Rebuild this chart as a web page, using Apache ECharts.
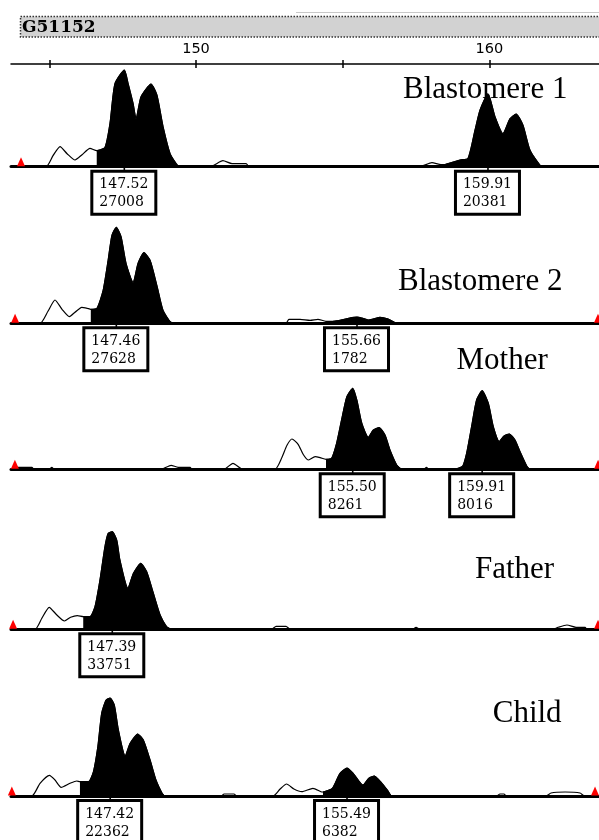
<!DOCTYPE html>
<html><head><meta charset="utf-8">
<script src="https://cdn.jsdelivr.net/npm/echarts@6/dist/echarts.min.js"></script>
<style>html,body{margin:0;padding:0;background:#fff}#c{width:599px;height:840px}</style>
</head><body><div id="c"></div>
<script>
// ---------- data ----------
const markerName = 'G51152';
const topTicks = [145, 150, 155, 160];
const topLabels = [150, 160];
const sampleNames = ['Blastomere 1', 'Blastomere 2', 'Mother', 'Father', 'Child'];

// traces: [size (bp), height (RFU)]
const b1Trace = [[143.66,0],[144.85,0],[145.09,3072],[145.33,5586],[145.57,3631],[145.84,1871],[146.08,3352],[146.35,5111],[146.58,4469],[146.86,5390],[147.03,12010],[147.20,23182],[147.52,27008],[147.65,23182],[147.82,17596],[147.92,13406],[148.09,19551],[148.43,23098],[148.63,20026],[148.84,11172],[149.08,3631],[149.35,200],[149.49,0],[150.44,0],[150.88,1676],[151.19,838],[151.67,838],[151.77,0],[157.59,0],[158.00,1117],[158.31,559],[158.41,559],[158.96,1871],[159.23,2318],[159.47,10250],[159.64,15836],[159.91,20381],[160.15,13965],[160.42,9217],[160.66,13406],[160.87,14719],[161.10,11647],[161.34,4664],[161.68,475],[161.79,0],[163.69,0]];
const b2Trace = [[143.87,0],[144.86,0],[145.13,3454],[145.37,6706],[145.61,4029],[145.86,1928],[146.05,3166],[146.28,4605],[146.47,4317],[146.59,4029],[146.80,4317],[147.01,9497],[147.18,18131],[147.31,25326],[147.46,27628],[147.62,24952],[147.79,17268],[148.03,11713],[148.20,17268],[148.40,20347],[148.61,18131],[148.85,10562],[149.05,3741],[149.29,489],[149.43,0],[153.24,0],[153.34,1151],[153.72,1151],[154.06,863],[154.33,1151],[154.60,576],[154.84,576],[155.08,863],[155.49,1670],[155.66,1782],[155.86,1439],[156.04,950],[156.24,1295],[156.44,1727],[156.72,1238],[156.95,200],[157.02,0],[163.90,0]];
const motherTrace = [[143.86,0],[143.96,204],[144.57,204],[144.64,0],[145.15,0],[145.25,204],[145.32,0],[148.97,0],[149.31,408],[149.55,204],[149.96,204],[150.02,0],[151.11,0],[151.42,612],[151.76,0],[152.85,0],[153.09,1224],[153.26,2448],[153.43,3091],[153.64,2550],[153.81,1530],[153.98,949],[154.22,1295],[154.39,1193],[154.59,1020],[154.78,1122],[154.95,2652],[155.12,5029],[155.30,7415],[155.50,8261],[155.64,7069],[155.81,4692],[156.03,3264],[156.20,4009],[156.40,4253],[156.60,3499],[156.77,1969],[157.00,439],[157.17,0],[157.93,0],[158.01,204],[158.10,0],[158.93,0],[159.09,102],[159.25,337],[159.38,1632],[159.55,4355],[159.72,7069],[159.91,8016],[160.12,6732],[160.29,4355],[160.49,2825],[160.65,3397],[160.84,3601],[161.03,2989],[161.20,1805],[161.43,337],[161.54,0],[163.89,0]];
const fatherTrace = [[143.94,0],[144.76,0],[144.99,3804],[145.24,7608],[145.50,4945],[145.76,2870],[145.97,4150],[146.20,4737],[146.40,4392],[146.63,4392],[146.80,7850],[146.97,17048],[147.14,28598],[147.25,33197],[147.39,33751],[147.54,30880],[147.65,23964],[147.92,14178],[148.11,19365],[148.36,22823],[148.56,19953],[148.79,12449],[149.02,4945],[149.24,934],[149.41,0],[152.82,0],[152.97,1037],[153.31,1037],[153.45,0],[157.62,0],[157.74,692],[157.87,0],[162.41,0],[162.58,692],[162.88,1487],[163.19,692],[163.50,692],[163.56,0],[163.97,0]];
const childTrace = [[144.04,0],[144.75,0],[145.03,2898],[145.35,4724],[145.54,3651],[145.75,1985],[146.05,2898],[146.28,3423],[146.39,3263],[146.68,3263],[146.85,5545],[147.00,11250],[147.13,18872],[147.28,21907],[147.42,22362],[147.56,20766],[147.70,15061],[147.93,9128],[148.10,12026],[148.36,14148],[148.55,12779],[148.78,8215],[148.98,3651],[149.18,753],[149.29,0],[151.21,0],[151.30,456],[151.64,456],[151.72,0],[152.97,0],[153.21,1597],[153.43,2738],[153.68,1597],[153.95,981],[154.33,1757],[154.60,981],[154.67,913],[154.99,1757],[155.25,5180],[155.49,6382],[155.70,5180],[156.03,2510],[156.23,4039],[156.42,4564],[156.68,2898],[156.88,1209],[157.00,0],[160.59,0],[160.70,456],[160.84,456],[160.91,0],[162.27,0],[162.44,685],[162.92,913],[163.43,685],[163.58,0],[164.08,0]];

// filled (called) peak ranges [from, to] in bp
const b1Fill = [[146.58,149.49],[158.41,161.79]];
const b2Fill = [[146.59,149.43],[154.84,157.02]];
const motherFill = [[154.59,157.17],[158.93,161.54]];
const fatherFill = [[146.40,149.41]];
const childFill = [[146.39,149.29],[154.67,157.00]];

// called peaks [size, height]
const b1Peaks = [[147.52,27008],[159.91,20381]];
const b2Peaks = [[147.46,27628],[155.66,1782]];
const motherPeaks = [[155.50,8261],[159.91,8016]];
const fatherPeaks = [[147.39,33751]];
const childPeaks = [[147.42,22362],[155.49,6382]];

// size-standard markers (bp)
const b1Std = [144.00];
const b2Std = [144.01, 163.87];
const motherStd = [143.99, 163.86];
const fatherStd = [144.01, 163.94];
const childStd = [144.07, 163.94];

// ---------- layout ----------
const traces = [b1Trace, b2Trace, motherTrace, fatherTrace, childTrace];
const fills = [b1Fill, b2Fill, motherFill, fatherFill, childFill];
const peaks = [b1Peaks, b2Peaks, motherPeaks, fatherPeaks, childPeaks];
const stds = [b1Std, b2Std, motherStd, fatherStd, childStd];
const baselines = [166.7, 323.3, 469.3, 629.3, 796];
const xMins = [143.659, 143.871, 143.857, 143.939, 144.041];
const xSpan = 588 / 29.35;
const H = 112;
const yMaxs = [31282, 32234, 11424, 38730, 25558];
const namePos = [[403,100],[398,292.3],[456.5,371.7],[475,580],[492.7,724.3]];

const grids = [{left: 11, right: 0, top: 64, height: 10}];
const xAxes = [
  {gridIndex: 0, type: 'value', position: 'top', min: 143.693, max: 163.74,
   axisLine: {show: true, onZero: false, lineStyle: {color: '#000', width: 1.5}},
   axisTick: {show: true, length: 4, lineStyle: {color: '#000', width: 1.5}, customValues: topTicks},
   axisLabel: {show: true, customValues: topLabels, margin: 7, color: '#000', fontFamily: 'DejaVu Sans', fontSize: 14.5},
   splitLine: {show: false}},
  {gridIndex: 0, type: 'value', position: 'top', min: 143.693, max: 163.74,
   axisLine: {show: false, onZero: false},
   axisTick: {show: true, inside: true, length: 4, lineStyle: {color: '#000', width: 1.5}, customValues: topTicks},
   axisLabel: {show: false}, splitLine: {show: false}}
];
const yAxes = [{gridIndex: 0, type: 'value', show: false, min: 0, max: 1}];
const series = [];

for (let p = 0; p < 5; p++) {
  const gi = p + 1;
  grids.push({left: 11, right: 0, top: baselines[p] - H, height: H});
  xAxes.push({gridIndex: gi, type: 'value', min: xMins[p], max: xMins[p] + xSpan,
    axisLine: {show: true, onZero: false, lineStyle: {color: '#000', width: 3}},
    axisTick: {show: false}, axisLabel: {show: false}, splitLine: {show: false}});
  yAxes.push({gridIndex: gi, type: 'value', min: 0, max: yMaxs[p], show: false});
  const xi = xAxes.length - 1, yi = yAxes.length - 1;

  fills[p].forEach(([a, b]) => {
    series.push({type: 'line', xAxisIndex: xi, yAxisIndex: yi, silent: true, clip: false,
      data: traces[p].filter(d => d[0] >= a - 1e-6 && d[0] <= b + 1e-6),
      symbol: 'none', smooth: 0.2, z: 3,
      lineStyle: {color: '#000', width: 1},
      areaStyle: {color: '#000', opacity: 1}});
  });

  const mp = [];
  peaks[p].forEach(([bp, h]) => {
    mp.push({coord: [bp, 0], symbol: 'rect', symbolSize: [1.6, 6], symbolOffset: [0, 3],
      itemStyle: {color: '#000'},
      label: {show: true, position: 'bottom', distance: 0, offset: [-31, 0],
        formatter: bp.toFixed(2) + '\n' + h, align: 'left',
        width: 50, padding: [3, 5, 1, 6], backgroundColor: '#fff',
        borderColor: '#000', borderWidth: 3, color: '#000',
        fontFamily: 'DejaVu Serif', fontSize: 14, lineHeight: 18}});
  });
  stds[p].forEach(bp => {
    mp.push({coord: [bp, 0], symbol: 'triangle', symbolSize: [8, 9], symbolOffset: [0, -5],
      itemStyle: {color: '#ff0000'}, label: {show: false}});
  });

  series.push({type: 'line', xAxisIndex: xi, yAxisIndex: yi, silent: true, clip: false,
    data: traces[p], symbol: 'none', smooth: 0.2, z: 4,
    lineStyle: {color: '#000', width: 1.2},
    markPoint: {silent: true, animation: false, data: mp}});
}

const graphics = [
  {type: 'line', shape: {x1: 296, y1: 12.5, x2: 599, y2: 12.5}, style: {stroke: '#c8c8c8', lineWidth: 1}},
  {type: 'rect', shape: {x: 20.5, y: 16.5, width: 590, height: 20.5},
   style: {fill: '#d2d2d2', stroke: '#333', lineWidth: 1.5, lineDash: [1.5, 1.5]}},
  {type: 'text', x: 22, y: 27.5, style: {text: markerName, fill: '#000',
   font: 'bold 17px "DejaVu Serif"', verticalAlign: 'middle', align: 'left'}}
];
sampleNames.forEach((n, i) => {
  graphics.push({type: 'text', x: namePos[i][0], y: namePos[i][1] - 10.5,
    style: {text: n, fill: '#000', font: '31px "Liberation Serif"', verticalAlign: 'middle', align: 'left'}});
});

const chart = echarts.init(document.getElementById('c'), null, {renderer: 'canvas'});
chart.setOption({
  animation: false,
  backgroundColor: '#fff',
  grid: grids, xAxis: xAxes, yAxis: yAxes, series: series, graphic: graphics
});
</script></body></html>
